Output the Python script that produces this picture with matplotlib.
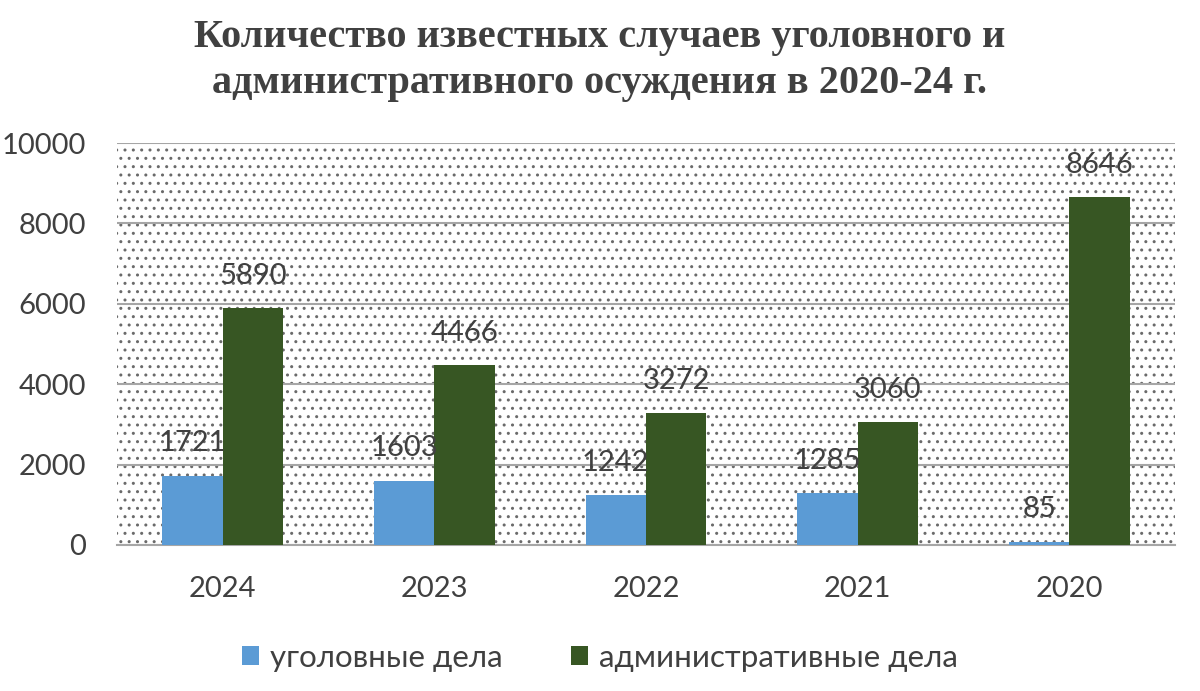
import matplotlib
matplotlib.use("Agg")
import matplotlib.pyplot as plt
import numpy as np

years = ['2024', '2023', '2022', '2021', '2020']
criminal = [1721, 1603, 1242, 1285, 85]
admin = [5890, 4466, 3272, 3060, 8646]
series_names = ['уголовные дела', 'административные дела']
colors = ['#5b9bd5', '#375623']
title_text = 'Количество известных случаев уголовного и\nадминистративного осуждения в 2020-24 г.'

plt.rcParams['font.family'] = ['Lato', 'DejaVu Sans']
plt.rcParams['hatch.color'] = '#6a6a6a'
plt.rcParams['hatch.linewidth'] = 1.0

fig = plt.figure(figsize=(12, 6.91), dpi=100)
ax = fig.add_axes([0.0975, 0.2113, 0.8817, 0.5817])

# dotted plot background
ax.patch.set_facecolor('white')
ax.patch.set_hatch('..')
ax.patch.set_edgecolor('#6a6a6a')
ax.patch.set_linewidth(0)

x = np.arange(len(years))
w = 0.285
b1 = ax.bar(x - w / 2, criminal, w, color=colors[0], label=series_names[0], zorder=3)
b2 = ax.bar(x + w / 2, admin, w, color=colors[1], label=series_names[1], zorder=3)

for bars, vals in ((b1, criminal), (b2, admin)):
    for r, v in zip(bars, vals):
        ax.annotate(str(v), (r.get_x() + r.get_width() / 2, v), xytext=(0, 14),
                    textcoords='offset points', ha='center', va='bottom',
                    fontsize=21, color='#404040', zorder=4)

ax.set_xlim(-0.5, len(years) - 0.5)
ax.set_ylim(0, 10000)
ax.set_yticks(range(0, 10001, 2000))
ax.set_xticks(x)
ax.set_xticklabels(years)
ax.tick_params(length=0, labelsize=21, labelcolor='#404040')
ax.tick_params(axis='x', pad=22)
ax.tick_params(axis='y', pad=22)
ax.yaxis.grid(True, color='#a6a6a6', linewidth=1.5, zorder=2)
ax.set_axisbelow(True)
for s in ('top', 'right', 'left'):
    ax.spines[s].set_visible(False)
ax.spines['bottom'].set_color('#a6a6a6')
ax.spines['bottom'].set_linewidth(1.5)

fig.text(0.5, 0.972, title_text, ha='center', va='top', fontsize=29,
         fontweight='bold', family='Liberation Serif', color='#404040',
         linespacing=1.32)

leg = fig.legend(loc='center', bbox_to_anchor=(0.5, 0.048), ncol=2, frameon=False,
                 fontsize=22.5, handlelength=0.55, handleheight=0.55,
                 handletextpad=0.35, columnspacing=2.2)
for t in leg.get_texts():
    t.set_color('#404040')

fig.savefig('out.png', dpi=100)
